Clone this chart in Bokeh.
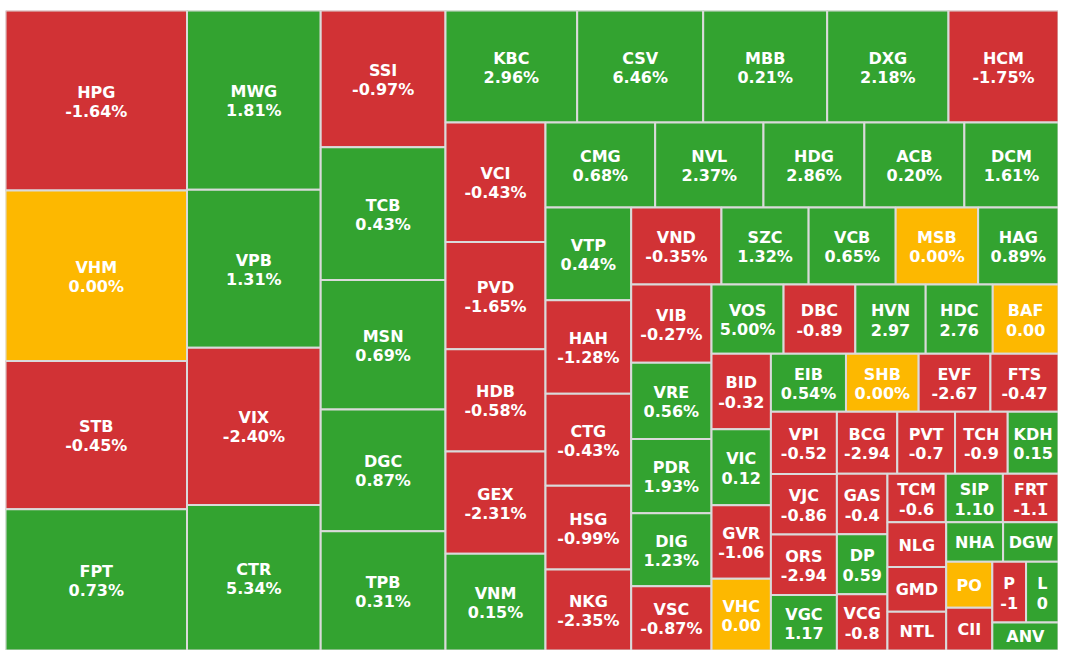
from bokeh.plotting import figure
from bokeh.models import ColumnDataSource, Range1d
from bokeh.core.properties import value
from bokeh.embed import file_html
from bokeh.resources import INLINE

# ---------------- data ----------------
tickers = ["HPG", "VHM", "STB", "FPT", "MWG", "VPB", "VIX", "CTR",
           "SSI", "TCB", "MSN", "DGC", "TPB", "KBC", "CSV", "MBB", "DXG", "HCM",
           "VCI", "PVD", "HDB", "GEX", "VNM", "CMG", "NVL", "HDG", "ACB", "DCM",
           "VTP", "HAH", "CTG", "HSG", "NKG", "VND", "SZC", "VCB", "MSB", "HAG",
           "VIB", "VRE", "PDR", "DIG", "VSC", "VOS", "DBC", "HVN", "HDC", "BAF",
           "BID", "VIC", "GVR", "VHC", "EIB", "SHB", "EVF", "FTS",
           "VPI", "VJC", "ORS", "VGC", "BCG", "PVT", "TCH", "KDH",
           "GAS", "DP", "VCG", "TCM", "SIP", "FRT", "NLG", "GMD", "NTL",
           "NHA", "DGW", "PO", "CII", "P", "L", "ANV"]

# relative tile size (weight of each stock)
sizes = [32670, 30946, 26898, 25646, 23972, 21111, 21018, 19467,
         17060, 16573, 16162, 15201, 14876, 14750, 14112, 13888, 13586, 12320,
         11950, 10720, 10220, 10230, 9680, 9333, 9214, 8585, 8509, 8010,
         7950, 8000, 7878, 7198, 6932, 6945, 6707, 6699, 6345, 6183,
         6287, 6119, 5966, 5862, 5155, 4990, 4969, 4872, 4643, 4553,
         4479, 4514, 4372, 4259, 4350, 4211, 4159, 3944,
         4105, 3993, 3993, 3663, 3751, 3589, 3272, 3154,
         3056, 3036, 2839, 2823, 2765, 2692, 2628, 2628, 2280,
         2240, 2181, 2121, 1977, 2052, 1973, 1856]

# price change in percent (used for the colour)
change_pct = [-1.64, 0.00, -0.45, 0.73, 1.81, 1.31, -2.40, 5.34,
              -0.97, 0.43, 0.69, 0.87, 0.31, 2.96, 6.46, 0.21, 2.18, -1.75,
              -0.43, -1.65, -0.58, -2.31, 0.15, 0.68, 2.37, 2.86, 0.20, 1.61,
              0.44, -1.28, -0.43, -0.99, -2.35, -0.35, 1.32, 0.65, 0.00, 0.89,
              -0.27, 0.56, 1.93, 1.23, -0.87, 5.00, -0.89, 2.97, 2.76, 0.00,
              -0.32, 0.12, -1.06, 0.00, 0.54, 0.00, -2.67, -0.47,
              -0.52, -0.86, -2.94, 1.17, -2.94, -0.7, -0.9, 0.15,
              -0.4, 0.59, -0.8, -0.6, 1.10, -1.1, -0.5, -0.5, -0.5,
              0.5, 0.5, 0.00, -0.5, -1.0, 0.3, 0.5]

# change text as it is shown inside each tile ("" = not shown)
change_label = ["-1.64%", "0.00%", "-0.45%", "0.73%", "1.81%", "1.31%", "-2.40%", "5.34%",
                "-0.97%", "0.43%", "0.69%", "0.87%", "0.31%", "2.96%", "6.46%", "0.21%", "2.18%", "-1.75%",
                "-0.43%", "-1.65%", "-0.58%", "-2.31%", "0.15%", "0.68%", "2.37%", "2.86%", "0.20%", "1.61%",
                "0.44%", "-1.28%", "-0.43%", "-0.99%", "-2.35%", "-0.35%", "1.32%", "0.65%", "0.00%", "0.89%",
                "-0.27%", "0.56%", "1.93%", "1.23%", "-0.87%", "5.00%", "-0.89", "2.97", "2.76", "0.00",
                "-0.32", "0.12", "-1.06", "0.00", "0.54%", "0.00%", "-2.67", "-0.47",
                "-0.52", "-0.86", "-2.94", "1.17", "-2.94", "-0.7", "-0.9", "0.15",
                "-0.4", "0.59", "-0.8", "-0.6", "1.10", "-1.1", "", "", "",
                "", "", "", "", "-1", "0", ""]

# ---------------- style ----------------
W, H = 1053, 640          # treemap box in pixels
LEFT, TOP = 5, 10         # offset of the box inside the figure
RATIO = 0.985
RED, GREEN, YELLOW = "#d13235", "#33a330", "#fdb800"
BORDER = "#dadada"


def squarify(vals, x0, y0, x1, y1, ratio):
    """Squarified treemap (same scheme as d3.treemapSquarify)."""
    n = len(vals)
    out = [None] * n
    total = float(sum(vals))
    i0 = i1 = 0
    while i0 < n:
        dx, dy = x1 - x0, y1 - y0
        s = float(vals[i1]); i1 += 1
        vmin = vmax = s
        alpha = max(dy / dx, dx / dy) / (total * ratio)
        beta = s * s * alpha
        best = max(vmax / beta, beta / vmin)
        while i1 < n:
            v = float(vals[i1])
            s += v
            vmin = min(vmin, v); vmax = max(vmax, v)
            beta = s * s * alpha
            r = max(vmax / beta, beta / vmin)
            if r > best:
                s -= v
                break
            best = r
            i1 += 1
        if dx < dy:  # row across the top
            yy = y0 + dy * s / total if total else y1
            xx = x0
            for k in range(i0, i1):
                w = dx * vals[k] / s
                out[k] = (xx, y0, xx + w, yy)
                xx += w
            y0 = yy
        else:        # column down the left
            xx = x0 + dx * s / total if total else x1
            yy = y0
            for k in range(i0, i1):
                h = dy * vals[k] / s
                out[k] = (x0, yy, xx, yy + h)
                yy += h
            x0 = xx
        total -= s
        i0 = i1
    return out


rects = squarify(sizes, 0.0, 0.0, W, H, RATIO)

colors = [GREEN if c > 0 else (RED if c < 0 else YELLOW) for c in change_pct]
tiles = ColumnDataSource(dict(
    left=[r[0] for r in rects], right=[r[2] for r in rects],
    top=[r[1] for r in rects], bottom=[r[3] for r in rects], color=colors))

tx, ty, tt = [], [], []
for r, name, lab in zip(rects, tickers, change_label):
    cx, cy = (r[0] + r[2]) / 2, (r[1] + r[3]) / 2
    if lab:
        tx += [cx, cx]; ty += [cy - 8.5, cy + 10.5]; tt += [name, lab]
    else:
        tx.append(cx); ty.append(cy + 0.5); tt.append(name)
texts = ColumnDataSource(dict(x=tx, y=ty, text=tt))

p = figure(width=W + LEFT, height=H + TOP, x_range=Range1d(0, W), y_range=Range1d(H, 0),
           output_backend="svg", toolbar_location=None,
           x_axis_type=None, y_axis_type=None,
           min_border_left=LEFT, min_border_right=0, min_border_top=TOP, min_border_bottom=0,
           outline_line_color=None, background_fill_color="white", border_fill_color="white")
p.grid.visible = False

p.quad(left="left", right="right", top="top", bottom="bottom", source=tiles,
       fill_color="color", line_color=BORDER, line_width=2)
p.text(x="x", y="y", text="text", source=texts, text_align="center", text_baseline="middle",
       text_font=value("DejaVu Sans"), text_font_style="bold", text_font_size="16px",
       text_color="white")

open("out.html", "w").write(file_html(p, INLINE, title="Treemap"))
